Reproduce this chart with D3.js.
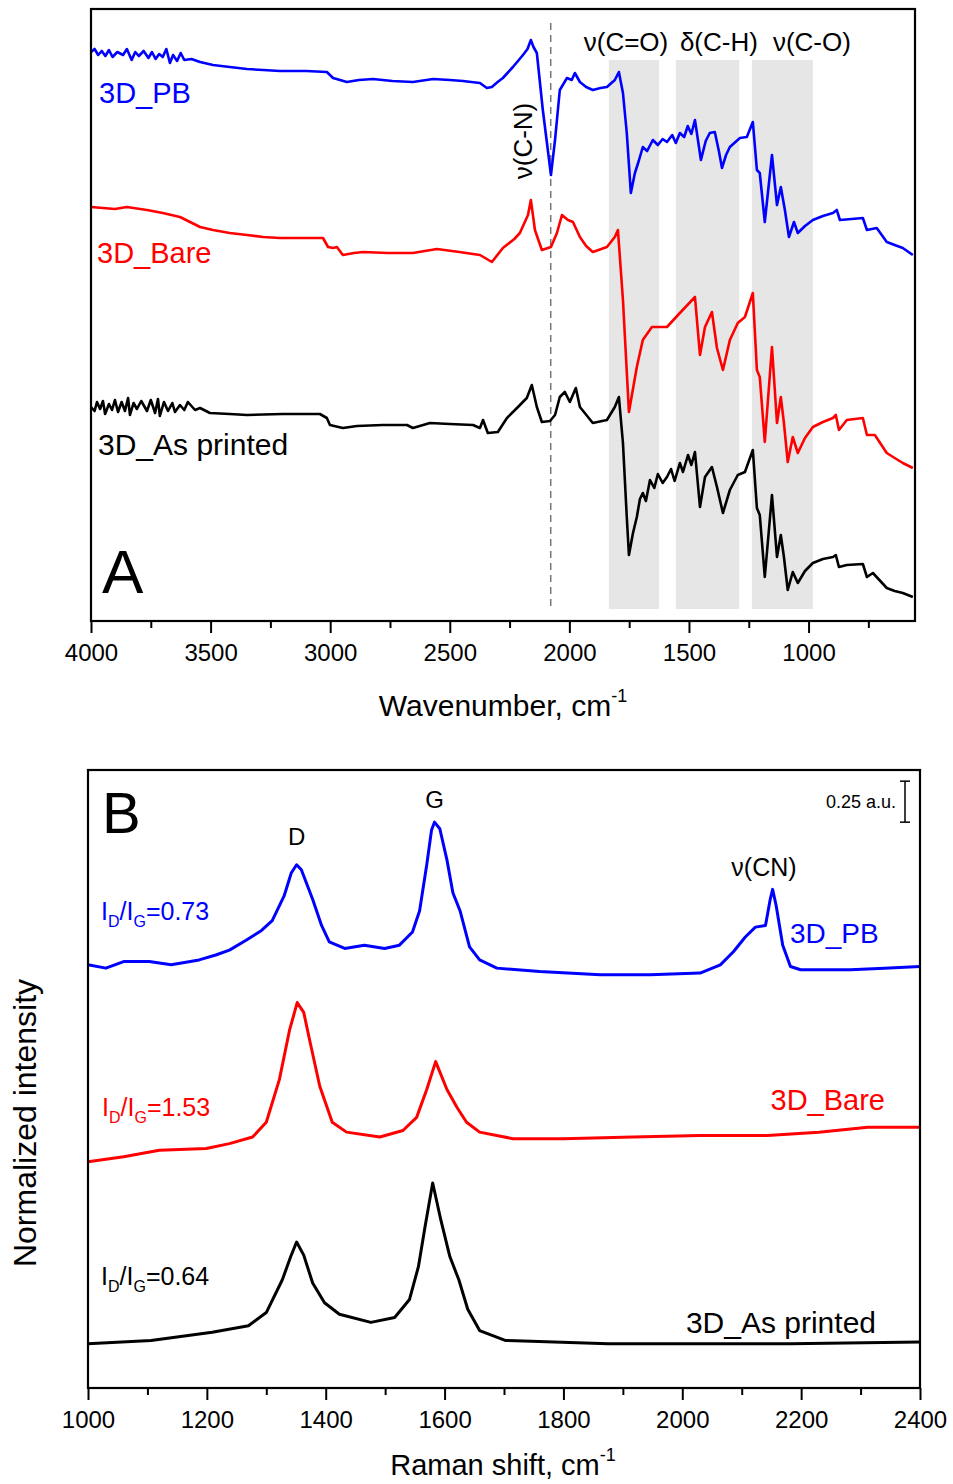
<!DOCTYPE html>
<meta charset="utf-8">
<style>
body { margin: 0; background: #fff; }
svg { font-family: "Liberation Sans", Arial, sans-serif; }
.line { fill: none; stroke-width: 2.6px; stroke-linejoin: round; }
.axis text { font-size: 24px; fill: #000; }
.axis line { stroke: #000; stroke-width: 2px; }
</style>
<body>
<script src="https://d3js.org/d3.v7.min.js"></script>
<script>

// ---------- data: panel A, FTIR (wavenumber, arbitrary offset units) ----------
var ftirPB = [
  [4000,5.69],[3985,5.72],[3970,5.66],[3955,5.70],[3940,5.65],[3925,5.71],[3910,5.64],[3890,5.69],
  [3866,5.66],[3850,5.72],[3830,5.61],[3815,5.69],[3800,5.65],[3780,5.70],[3760,5.63],[3745,5.69],
  [3730,5.62],[3715,5.67],[3700,5.64],[3685,5.72],[3670,5.58],[3657,5.66],[3640,5.60],[3625,5.68],
  [3610,5.61],[3580,5.62],[3544,5.59],[3490,5.56],[3420,5.54],[3348,5.52],[3280,5.51],[3210,5.50],
  [3100,5.50],[3014,5.49],[2988,5.43],[2930,5.39],[2880,5.41],[2821,5.42],[2740,5.40],[2654,5.39],
  [2570,5.42],[2500,5.41],[2445,5.40],[2374,5.38],[2345,5.33],[2324,5.34],[2300,5.39],[2278,5.43],
  [2236,5.54],[2194,5.66],[2175,5.72],[2161,5.81],[2150,5.74],[2136,5.68],[2111,5.11],[2077,4.46],
  [2060,4.81],[2040,5.31],[2010,5.43],[1990,5.41],[1977,5.48],[1956,5.39],[1930,5.34],[1902,5.31],
  [1870,5.33],[1843,5.34],[1810,5.41],[1793,5.49],[1776,5.28],[1760,4.88],[1743,4.28],[1726,4.48],
  [1710,4.60],[1693,4.74],[1675,4.70],[1651,4.81],[1630,4.76],[1610,4.82],[1592,4.79],[1570,4.86],
  [1555,4.78],[1538,4.88],[1520,4.84],[1505,4.95],[1490,4.87],[1475,5.01],[1450,4.61],[1430,4.80],
  [1413,4.88],[1392,4.89],[1375,4.70],[1362,4.53],[1345,4.66],[1329,4.74],[1287,4.83],[1258,4.84],
  [1233,4.99],[1216,4.51],[1204,4.48],[1183,3.99],[1153,4.66],[1132,4.16],[1116,4.34],[1099,4.11],
  [1082,3.84],[1061,3.99],[1045,3.88],[1015,3.95],[982,4.01],[940,4.05],[898,4.08],[882,4.11],
  [869,4.01],[820,4.02],[773,4.03],[756,3.91],[715,3.93],[673,3.79],[640,3.76],[606,3.73],[564,3.66]
];
var ftirBare = [
  [4000,4.14],[3950,4.13],[3900,4.12],[3850,4.14],[3766,4.11],[3700,4.08],[3628,4.04],[3544,3.94],
  [3490,3.91],[3420,3.88],[3348,3.86],[3280,3.84],[3210,3.83],[3120,3.83],[3030,3.83],[3009,3.74],
  [2988,3.73],[2972,3.74],[2947,3.66],[2900,3.68],[2863,3.69],[2760,3.68],[2654,3.68],[2554,3.72],
  [2460,3.69],[2374,3.66],[2324,3.59],[2278,3.73],[2230,3.82],[2207,3.88],[2173,4.06],[2161,4.21],
  [2144,3.91],[2115,3.71],[2077,3.74],[2052,3.88],[2031,4.06],[2006,4.01],[1985,3.99],[1956,3.84],
  [1930,3.75],[1902,3.69],[1843,3.74],[1810,3.84],[1797,3.91],[1776,3.21],[1751,2.09],[1718,2.54],
  [1693,2.81],[1655,2.94],[1592,2.94],[1538,3.08],[1475,3.24],[1454,2.66],[1433,2.94],[1404,3.09],
  [1383,2.73],[1358,2.51],[1329,2.81],[1296,2.98],[1266,3.04],[1233,3.28],[1216,2.51],[1204,2.44],
  [1183,1.79],[1153,2.74],[1132,1.98],[1116,2.24],[1103,1.98],[1087,1.59],[1066,1.84],[1045,1.68],
  [1015,1.83],[982,1.94],[940,1.99],[898,2.03],[886,2.06],[873,1.91],[840,2.01],[773,2.03],
  [756,1.86],[723,1.86],[673,1.68],[640,1.63],[606,1.58],[564,1.53]
];
var ftirAsPrinted = [
  [4000,2.14],[3985,2.10],[3975,2.19],[3962,2.12],[3950,2.20],[3941,2.07],[3925,2.17],[3912,2.11],
  [3900,2.21],[3887,2.09],[3872,2.19],[3858,2.10],[3845,2.23],[3837,2.06],[3822,2.18],[3808,2.12],
  [3790,2.20],[3766,2.10],[3750,2.21],[3732,2.08],[3720,2.22],[3712,2.05],[3695,2.19],[3678,2.10],
  [3660,2.18],[3649,2.09],[3628,2.16],[3610,2.11],[3595,2.19],[3565,2.11],[3544,2.13],[3503,2.08],
  [3420,2.07],[3348,2.06],[3200,2.07],[3043,2.07],[3014,2.03],[3001,1.96],[2947,1.93],[2888,1.95],
  [2780,1.96],[2679,1.96],[2654,1.93],[2583,1.98],[2500,1.97],[2403,1.96],[2374,1.93],[2361,2.01],
  [2341,1.88],[2299,1.89],[2261,2.03],[2219,2.13],[2178,2.23],[2157,2.36],[2136,2.14],[2115,1.99],
  [2081,2.00],[2060,2.06],[2040,2.24],[2019,2.29],[1998,2.19],[1973,2.33],[1956,2.14],[1902,1.98],
  [1843,2.01],[1810,2.14],[1793,2.24],[1776,1.78],[1760,1.04],[1751,0.66],[1734,0.88],[1718,1.04],
  [1705,1.22],[1693,1.28],[1680,1.20],[1663,1.41],[1645,1.33],[1630,1.47],[1610,1.38],[1592,1.44],
  [1575,1.52],[1560,1.40],[1538,1.58],[1525,1.49],[1504,1.66],[1490,1.56],[1475,1.69],[1454,1.14],
  [1433,1.44],[1404,1.54],[1383,1.34],[1358,1.08],[1329,1.31],[1296,1.46],[1266,1.49],[1233,1.71],
  [1216,1.13],[1204,1.06],[1183,0.44],[1153,1.26],[1132,0.64],[1116,0.86],[1103,0.64],[1087,0.31],
  [1066,0.49],[1045,0.38],[1015,0.50],[982,0.58],[940,0.62],[898,0.64],[886,0.66],[873,0.54],
  [840,0.56],[773,0.57],[756,0.44],[731,0.48],[673,0.33],[640,0.30],[606,0.28],[564,0.24]
];
var ftirBands = [[1835,1625],[1555,1290],[1237,982]];
var ftirBandLabels = ["\u03bd(C=O)", "\u03b4(C-H)", "\u03bd(C-O)"];
var ftirBandLabelWn = [1940, 1538, 1149];
var cnLineWn = 2078;
var ftirTicks = [4000,3500,3000,2500,2000,1500,1000];
var ftirMinorTicks = [3750,3250,2750,2250,1750,1250,750];

// ---------- data: panel B, Raman (shift, normalized intensity + offset) ----------
var ramanPB = [
  [1000,2.58],[1030,2.56],[1060,2.60],[1103,2.60],[1140,2.58],[1187,2.61],[1215,2.64],[1238,2.67],
  [1266,2.73],[1292,2.79],[1310,2.85],[1330,3.00],[1342,3.14],[1351,3.19],[1359,3.16],[1378,2.98],
  [1393,2.82],[1406,2.72],[1432,2.68],[1465,2.70],[1499,2.68],[1524,2.70],[1546,2.78],[1558,2.91],
  [1570,3.19],[1578,3.40],[1583,3.45],[1592,3.41],[1604,3.22],[1614,3.02],[1626,2.91],[1642,2.69],
  [1659,2.61],[1688,2.56],[1760,2.54],[1862,2.52],[1946,2.52],[2030,2.53],[2064,2.58],[2086,2.66],
  [2106,2.75],[2123,2.81],[2140,2.82],[2148,2.98],[2152,3.04],[2158,2.94],[2169,2.70],[2182,2.57],
  [2199,2.55],[2283,2.55],[2340,2.56],[2400,2.57]
];
var ramanBare = [
  [1000,1.38],[1060,1.41],[1120,1.45],[1199,1.46],[1238,1.49],[1277,1.53],[1300,1.62],[1322,1.88],
  [1339,2.18],[1352,2.35],[1363,2.29],[1373,2.12],[1390,1.84],[1411,1.62],[1435,1.56],[1491,1.53],
  [1530,1.57],[1553,1.65],[1570,1.82],[1585,1.99],[1604,1.82],[1621,1.71],[1637,1.62],[1659,1.56],
  [1715,1.52],[1800,1.52],[1917,1.53],[2030,1.54],[2143,1.54],[2230,1.56],[2312,1.59],[2400,1.59]
];
var ramanAsPrinted = [
  [1000,0.27],[1106,0.29],[1209,0.34],[1270,0.38],[1300,0.46],[1327,0.66],[1341,0.80],[1351,0.89],
  [1363,0.81],[1378,0.64],[1398,0.52],[1423,0.45],[1476,0.40],[1516,0.43],[1541,0.54],[1556,0.74],
  [1567,0.98],[1580,1.25],[1594,1.02],[1609,0.80],[1624,0.66],[1639,0.48],[1659,0.35],[1702,0.29],
  [1875,0.27],[2182,0.27],[2400,0.28]
];
var ramanTicks = [1000,1200,1400,1600,1800,2000,2200,2400];
var ramanMinorTicks = [1100,1300,1500,1700,1900,2100,2300];
var scaleBarBase = 3.45, scaleBarSize = 0.25;

// ---------- layout ----------
var W = 953, H = 1484;
var svg = d3.select("body").append("svg")
    .attr("width", W)
    .attr("height", H);

// ================= Panel A =================
var xA = d3.scaleLinear().domain([4000, 555]).range([91, 915]);
var yA = d3.scaleLinear().domain([0, 6.12]).range([621, 9]);

var gA = svg.append("g");

// shaded bands
gA.selectAll("rect.band").data(ftirBands).enter().append("rect")
    .attr("class", "band")
    .attr("x", function(d) { return xA(d[0]); })
    .attr("width", function(d) { return xA(d[1]) - xA(d[0]); })
    .attr("y", yA(5.61))
    .attr("height", yA(0.12) - yA(5.61))
    .attr("fill", "#e6e6e6");

// dashed C-N line
gA.append("line")
    .attr("x1", xA(cnLineWn)).attr("x2", xA(cnLineWn))
    .attr("y1", yA(5.98)).attr("y2", yA(0.13))
    .attr("stroke", "#777").attr("stroke-width", 1.5)
    .attr("stroke-dasharray", "7,5");

var lineA = d3.line()
    .x(function(d) { return xA(d[0]); })
    .y(function(d) { return yA(d[1]); });

[[ftirPB, "#0000ff"], [ftirBare, "#ff0000"], [ftirAsPrinted, "#000"]].forEach(function(s) {
  gA.append("path").datum(s[0]).attr("class", "line")
      .attr("stroke", s[1]).attr("d", lineA);
});

// frame
gA.append("rect")
    .attr("x", 91).attr("y", 9).attr("width", 824).attr("height", 612)
    .attr("fill", "none").attr("stroke", "#000").attr("stroke-width", 2.2);

// x axis
gA.append("g").attr("class", "axis")
    .attr("transform", "translate(0,621)")
    .call(d3.axisBottom(xA).tickValues(ftirTicks).tickSize(12).tickPadding(11).tickFormat(d3.format("d")))
    .call(function(g) { g.select(".domain").remove(); });
gA.append("g").attr("class", "axis")
    .attr("transform", "translate(0,621)")
    .call(d3.axisBottom(xA).tickValues(ftirMinorTicks).tickSize(7).tickFormat(""))
    .call(function(g) { g.select(".domain").remove(); });

var tA = gA.append("text")
    .attr("x", 503).attr("y", 716)
    .attr("text-anchor", "middle")
    .style("font-size", "30px")
    .text("Wavenumber, cm");
tA.append("tspan").attr("dy", -14).style("font-size", "18px").text("-1");

// labels
gA.append("text").attr("x", 99).attr("y", 103).attr("fill", "#0000ff")
    .style("font-size", "29px").text("3D_PB");
gA.append("text").attr("x", 97).attr("y", 263).attr("fill", "#ff0000")
    .style("font-size", "29px").text("3D_Bare");
gA.append("text").attr("x", 98).attr("y", 455).attr("fill", "#000")
    .style("font-size", "30px").text("3D_As printed");
gA.append("text").attr("x", 102).attr("y", 593)
    .style("font-size", "62px").text("A");

gA.append("text")
    .attr("transform", "translate(532,141) rotate(-90)")
    .attr("text-anchor", "middle")
    .style("font-size", "26px")
    .text("\u03bd(C-N)");

gA.selectAll("text.band").data(ftirBandLabelWn).enter().append("text")
    .attr("class", "band")
    .attr("x", function(d) { return xA(d); })
    .attr("y", 51)
    .style("font-size", "26px")
    .text(function(d, i) { return ftirBandLabels[i]; });

// ================= Panel B =================
var xB = d3.scaleLinear().domain([1000, 2400]).range([88, 920]);
var yB = d3.scaleLinear().domain([0, 3.768]).range([1388, 770]);

var gB = svg.append("g");

var lineB = d3.line()
    .x(function(d) { return xB(d[0]); })
    .y(function(d) { return yB(d[1]); });

[[ramanPB, "#0000ff"], [ramanBare, "#ff0000"], [ramanAsPrinted, "#000"]].forEach(function(s) {
  gB.append("path").datum(s[0]).attr("class", "line")
      .attr("stroke", s[1]).style("stroke-width", "3px").attr("d", lineB);
});

gB.append("rect")
    .attr("x", 88).attr("y", 770).attr("width", 832).attr("height", 618)
    .attr("fill", "none").attr("stroke", "#000").attr("stroke-width", 2.2);

gB.append("g").attr("class", "axis")
    .attr("transform", "translate(0,1388)")
    .call(d3.axisBottom(xB).tickValues(ramanTicks).tickSize(12).tickPadding(11).tickFormat(d3.format("d")))
    .call(function(g) { g.select(".domain").remove(); });
gB.append("g").attr("class", "axis")
    .attr("transform", "translate(0,1388)")
    .call(d3.axisBottom(xB).tickValues(ramanMinorTicks).tickSize(7).tickFormat(""))
    .call(function(g) { g.select(".domain").remove(); });

var tB = gB.append("text")
    .attr("x", 503).attr("y", 1475)
    .attr("text-anchor", "middle")
    .style("font-size", "29px")
    .text("Raman shift, cm");
tB.append("tspan").attr("dy", -14).style("font-size", "18px").text("-1");

gB.append("text")
    .attr("transform", "translate(36,1123) rotate(-90)")
    .attr("text-anchor", "middle")
    .style("font-size", "32px")
    .text("Normalized intensity");

gB.append("text").attr("x", 102).attr("y", 833)
    .style("font-size", "58px").text("B");
gB.append("text").attr("x", xB(1351)).attr("y", 845).attr("text-anchor", "middle")
    .style("font-size", "24px").text("D");
gB.append("text").attr("x", xB(1583)).attr("y", 808).attr("text-anchor", "middle")
    .style("font-size", "24px").text("G");
gB.append("text").attr("x", 764).attr("y", 876).attr("text-anchor", "middle")
    .style("font-size", "25px").text("\u03bd(CN)");

gB.append("text").attr("x", 790).attr("y", 943).attr("fill", "#0000ff")
    .style("font-size", "28px").text("3D_PB");
gB.append("text").attr("x", 885).attr("y", 1110).attr("fill", "#ff0000")
    .attr("text-anchor", "end")
    .style("font-size", "29px").text("3D_Bare");
gB.append("text").attr("x", 876).attr("y", 1333).attr("fill", "#000")
    .attr("text-anchor", "end")
    .style("font-size", "30px").text("3D_As printed");

// I_D/I_G ratio labels
function ratio(x, y, color, value) {
  var t = gB.append("text").attr("x", x).attr("y", y).attr("fill", color).style("font-size", "25px");
  t.append("tspan").text("I");
  t.append("tspan").attr("dy", 7).style("font-size", "16px").text("D");
  t.append("tspan").attr("dy", -7).text("/I");
  t.append("tspan").attr("dy", 7).style("font-size", "16px").text("G");
  t.append("tspan").attr("dy", -7).text("=" + value);
}
ratio(101, 920, "#0000ff", "0.73");
ratio(102, 1116, "#ff0000", "1.53");
ratio(101, 1285, "#000", "0.64");

// scale bar
var sbx = 905;
gB.append("line").attr("x1", sbx).attr("x2", sbx)
    .attr("y1", yB(scaleBarBase)).attr("y2", yB(scaleBarBase + scaleBarSize))
    .attr("stroke", "#000").attr("stroke-width", 1.5);
[scaleBarBase, scaleBarBase + scaleBarSize].forEach(function(v) {
  gB.append("line").attr("x1", sbx - 5).attr("x2", sbx + 5)
      .attr("y1", yB(v)).attr("y2", yB(v))
      .attr("stroke", "#000").attr("stroke-width", 1.5);
});
gB.append("text").attr("x", 896).attr("y", 808).attr("text-anchor", "end")
    .style("font-size", "18px").text("0.25 a.u.");

</script>
</body>
